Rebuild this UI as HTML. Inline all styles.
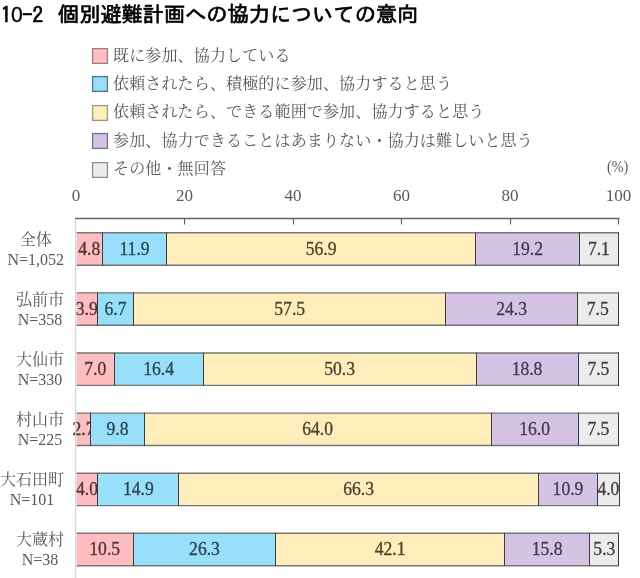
<!DOCTYPE html>
<html lang="ja"><head><meta charset="utf-8"><title>10-2 個別避難計画への協力についての意向</title>
<style>
html,body{margin:0;padding:0;background:#fff;}
body{width:640px;height:578px;position:relative;overflow:hidden;}
svg{position:absolute;left:0;top:0;}
svg text{font-family:"Liberation Serif",serif;font-size:17.6px;text-anchor:middle;stroke-width:0.3px;}
.t{position:absolute;white-space:pre;line-height:1;}
.title{top:4px;-webkit-text-stroke:0.7px #000;font-family:"IPAGothic","Noto Sans CJK JP",sans-serif;font-size:21.2px;color:#000;}
.lg{left:113px;font-family:"Liberation Serif", "Noto Serif CJK JP", "Noto Serif CJK SC", serif;font-size:16px;letter-spacing:0.15px;color:#595959;}
.ax{font-family:"Liberation Serif",serif;font-size:17px;color:#595959;width:40px;text-align:center;}
.rl{position:absolute;right:576px;font-family:"Liberation Serif", "Noto Serif CJK JP", "Noto Serif CJK SC", serif;font-size:16px;color:#595959;text-align:center;line-height:20px;white-space:pre;}
</style></head><body>
<svg width="640" height="578" viewBox="0 0 640 578"><rect x="92.6" y="48.6" width="14.8" height="14.8" fill="#ffbdc0" stroke="#a07880" stroke-width="1.3"/><rect x="92.6" y="76.6" width="14.8" height="14.8" fill="#98dff9" stroke="#50768a" stroke-width="1.3"/><rect x="92.6" y="105.6" width="14.8" height="14.8" fill="#ffeebb" stroke="#a09878" stroke-width="1.3"/><rect x="92.6" y="133.6" width="14.8" height="14.8" fill="#d5c3e5" stroke="#7a6c8c" stroke-width="1.3"/><rect x="92.6" y="162.6" width="14.8" height="14.8" fill="#ececec" stroke="#8e8e8e" stroke-width="1.3"/><line x1="75" y1="218.5" x2="619.5" y2="218.5" stroke="#666" stroke-width="1.5"/><line x1="184.5" y1="218.5" x2="184.5" y2="224.5" stroke="#5a5a5a" stroke-width="1.1"/><line x1="293.5" y1="218.5" x2="293.5" y2="224.5" stroke="#5a5a5a" stroke-width="1.1"/><line x1="401.5" y1="218.5" x2="401.5" y2="224.5" stroke="#5a5a5a" stroke-width="1.1"/><line x1="510.5" y1="218.5" x2="510.5" y2="224.5" stroke="#5a5a5a" stroke-width="1.1"/><line x1="618.5" y1="218.5" x2="618.5" y2="224.5" stroke="#5a5a5a" stroke-width="1.1"/><rect x="76.6" y="232.8" width="25.9" height="32.4" fill="#ffbdc0"/><text transform="translate(89.22 254.90) scale(1 1.040)" fill="#4a3636" stroke="#4a3636">4.8</text><rect x="102.5" y="232.8" width="64.0" height="32.4" fill="#98dff9"/><text transform="translate(134.52 254.90) scale(1 1.040)" fill="#2c4654" stroke="#2c4654">11.9</text><rect x="166.5" y="232.8" width="309.0" height="32.4" fill="#ffeebb"/><text transform="translate(321.14 254.90) scale(1 1.040)" fill="#48432f" stroke="#48432f">56.9</text><rect x="475.5" y="232.8" width="104.0" height="32.4" fill="#d5c3e5"/><text transform="translate(527.56 254.90) scale(1 1.040)" fill="#453a52" stroke="#453a52">19.2</text><rect x="579.5" y="232.8" width="39.0" height="32.4" fill="#ececec"/><text transform="translate(598.90 254.90) scale(1 1.040)" fill="#404040" stroke="#404040">7.1</text><path d="M76.6 232.8H619.0M76.6 265.2H619.0" stroke="#767676" stroke-width="1.4" fill="none"/><line x1="102.5" y1="232.5" x2="102.5" y2="265.5" stroke="#3c3c3c" stroke-width="1"/><line x1="166.5" y1="232.5" x2="166.5" y2="265.5" stroke="#3c3c3c" stroke-width="1"/><line x1="475.5" y1="232.5" x2="475.5" y2="265.5" stroke="#3c3c3c" stroke-width="1"/><line x1="579.5" y1="232.5" x2="579.5" y2="265.5" stroke="#3c3c3c" stroke-width="1"/><line x1="618.5" y1="232.5" x2="618.5" y2="265.5" stroke="#3c3c3c" stroke-width="1"/><rect x="76.6" y="292.9" width="20.9" height="32.4" fill="#ffbdc0"/><text transform="translate(86.78 315.00) scale(1 1.040)" fill="#4a3636" stroke="#4a3636">3.9</text><rect x="97.5" y="292.9" width="36.0" height="32.4" fill="#98dff9"/><text transform="translate(115.53 315.00) scale(1 1.040)" fill="#2c4654" stroke="#2c4654">6.7</text><rect x="133.5" y="292.9" width="312.0" height="32.4" fill="#ffeebb"/><text transform="translate(289.67 315.00) scale(1 1.040)" fill="#48432f" stroke="#48432f">57.5</text><rect x="445.5" y="292.9" width="132.0" height="32.4" fill="#d5c3e5"/><text transform="translate(511.56 315.00) scale(1 1.040)" fill="#453a52" stroke="#453a52">24.3</text><rect x="577.5" y="292.9" width="41.0" height="32.4" fill="#ececec"/><text transform="translate(597.81 315.00) scale(1 1.040)" fill="#404040" stroke="#404040">7.5</text><path d="M76.6 292.9H619.0M76.6 325.3H619.0" stroke="#767676" stroke-width="1.4" fill="none"/><line x1="97.5" y1="292.6" x2="97.5" y2="325.6" stroke="#3c3c3c" stroke-width="1"/><line x1="133.5" y1="292.6" x2="133.5" y2="325.6" stroke="#3c3c3c" stroke-width="1"/><line x1="445.5" y1="292.6" x2="445.5" y2="325.6" stroke="#3c3c3c" stroke-width="1"/><line x1="577.5" y1="292.6" x2="577.5" y2="325.6" stroke="#3c3c3c" stroke-width="1"/><line x1="618.5" y1="292.6" x2="618.5" y2="325.6" stroke="#3c3c3c" stroke-width="1"/><rect x="76.6" y="353.0" width="37.9" height="32.4" fill="#ffbdc0"/><text transform="translate(95.19 375.10) scale(1 1.040)" fill="#4a3636" stroke="#4a3636">7.0</text><rect x="114.5" y="353.0" width="89.0" height="32.4" fill="#98dff9"/><text transform="translate(158.66 375.10) scale(1 1.040)" fill="#2c4654" stroke="#2c4654">16.4</text><rect x="203.5" y="353.0" width="273.0" height="32.4" fill="#ffeebb"/><text transform="translate(339.58 375.10) scale(1 1.040)" fill="#48432f" stroke="#48432f">50.3</text><rect x="476.5" y="353.0" width="102.0" height="32.4" fill="#d5c3e5"/><text transform="translate(527.02 375.10) scale(1 1.040)" fill="#453a52" stroke="#453a52">18.8</text><rect x="578.5" y="353.0" width="40.0" height="32.4" fill="#ececec"/><text transform="translate(598.36 375.10) scale(1 1.040)" fill="#404040" stroke="#404040">7.5</text><path d="M76.6 353.0H619.0M76.6 385.4H619.0" stroke="#767676" stroke-width="1.4" fill="none"/><line x1="114.5" y1="352.7" x2="114.5" y2="385.7" stroke="#3c3c3c" stroke-width="1"/><line x1="203.5" y1="352.7" x2="203.5" y2="385.7" stroke="#3c3c3c" stroke-width="1"/><line x1="476.5" y1="352.7" x2="476.5" y2="385.7" stroke="#3c3c3c" stroke-width="1"/><line x1="578.5" y1="352.7" x2="578.5" y2="385.7" stroke="#3c3c3c" stroke-width="1"/><line x1="618.5" y1="352.7" x2="618.5" y2="385.7" stroke="#3c3c3c" stroke-width="1"/><rect x="76.6" y="413.1" width="13.9" height="32.4" fill="#ffbdc0"/><text transform="translate(83.52 435.20) scale(1 1.040)" fill="#4a3636" stroke="#4a3636">2.7</text><rect x="90.5" y="413.1" width="54.0" height="32.4" fill="#98dff9"/><text transform="translate(117.43 435.20) scale(1 1.040)" fill="#2c4654" stroke="#2c4654">9.8</text><rect x="144.5" y="413.1" width="347.0" height="32.4" fill="#ffeebb"/><text transform="translate(317.61 435.20) scale(1 1.040)" fill="#48432f" stroke="#48432f">64.0</text><rect x="491.5" y="413.1" width="87.0" height="32.4" fill="#d5c3e5"/><text transform="translate(534.61 435.20) scale(1 1.040)" fill="#453a52" stroke="#453a52">16.0</text><rect x="578.5" y="413.1" width="40.0" height="32.4" fill="#ececec"/><text transform="translate(598.36 435.20) scale(1 1.040)" fill="#404040" stroke="#404040">7.5</text><path d="M76.6 413.1H619.0M76.6 445.5H619.0" stroke="#767676" stroke-width="1.4" fill="none"/><line x1="90.5" y1="412.8" x2="90.5" y2="445.8" stroke="#3c3c3c" stroke-width="1"/><line x1="144.5" y1="412.8" x2="144.5" y2="445.8" stroke="#3c3c3c" stroke-width="1"/><line x1="491.5" y1="412.8" x2="491.5" y2="445.8" stroke="#3c3c3c" stroke-width="1"/><line x1="578.5" y1="412.8" x2="578.5" y2="445.8" stroke="#3c3c3c" stroke-width="1"/><line x1="618.5" y1="412.8" x2="618.5" y2="445.8" stroke="#3c3c3c" stroke-width="1"/><rect x="76.6" y="473.2" width="20.9" height="32.4" fill="#ffbdc0"/><text transform="translate(87.05 495.30) scale(1 1.040)" fill="#4a3636" stroke="#4a3636">4.0</text><rect x="97.5" y="473.2" width="81.0" height="32.4" fill="#98dff9"/><text transform="translate(138.32 495.30) scale(1 1.040)" fill="#2c4654" stroke="#2c4654">14.9</text><rect x="178.5" y="473.2" width="360.0" height="32.4" fill="#ffeebb"/><text transform="translate(358.57 495.30) scale(1 1.040)" fill="#48432f" stroke="#48432f">66.3</text><rect x="538.5" y="473.2" width="59.0" height="32.4" fill="#d5c3e5"/><text transform="translate(567.98 495.30) scale(1 1.040)" fill="#453a52" stroke="#453a52">10.9</text><rect x="597.5" y="473.2" width="22.0" height="32.4" fill="#ececec"/><text transform="translate(608.39 495.30) scale(1 1.040)" fill="#404040" stroke="#404040">4.0</text><path d="M76.6 473.2H620.0M76.6 505.6H620.0" stroke="#767676" stroke-width="1.4" fill="none"/><line x1="97.5" y1="472.9" x2="97.5" y2="505.9" stroke="#3c3c3c" stroke-width="1"/><line x1="178.5" y1="472.9" x2="178.5" y2="505.9" stroke="#3c3c3c" stroke-width="1"/><line x1="538.5" y1="472.9" x2="538.5" y2="505.9" stroke="#3c3c3c" stroke-width="1"/><line x1="597.5" y1="472.9" x2="597.5" y2="505.9" stroke="#3c3c3c" stroke-width="1"/><line x1="619.5" y1="472.9" x2="619.5" y2="505.9" stroke="#3c3c3c" stroke-width="1"/><rect x="76.6" y="533.3" width="56.9" height="32.4" fill="#ffbdc0"/><text transform="translate(104.68 555.40) scale(1 1.040)" fill="#4a3636" stroke="#4a3636">10.5</text><rect x="133.5" y="533.3" width="142.0" height="32.4" fill="#98dff9"/><text transform="translate(204.50 555.40) scale(1 1.040)" fill="#2c4654" stroke="#2c4654">26.3</text><rect x="275.5" y="533.3" width="229.0" height="32.4" fill="#ffeebb"/><text transform="translate(390.04 555.40) scale(1 1.040)" fill="#48432f" stroke="#48432f">42.1</text><rect x="504.5" y="533.3" width="85.0" height="32.4" fill="#d5c3e5"/><text transform="translate(547.09 555.40) scale(1 1.040)" fill="#453a52" stroke="#453a52">15.8</text><rect x="589.5" y="533.3" width="29.0" height="32.4" fill="#ececec"/><text transform="translate(604.32 555.40) scale(1 1.040)" fill="#404040" stroke="#404040">5.3</text><path d="M76.6 533.3H619.0M76.6 565.7H619.0" stroke="#767676" stroke-width="1.4" fill="none"/><line x1="133.5" y1="533.0" x2="133.5" y2="566.0" stroke="#3c3c3c" stroke-width="1"/><line x1="275.5" y1="533.0" x2="275.5" y2="566.0" stroke="#3c3c3c" stroke-width="1"/><line x1="504.5" y1="533.0" x2="504.5" y2="566.0" stroke="#3c3c3c" stroke-width="1"/><line x1="589.5" y1="533.0" x2="589.5" y2="566.0" stroke="#3c3c3c" stroke-width="1"/><line x1="618.5" y1="533.0" x2="618.5" y2="566.0" stroke="#3c3c3c" stroke-width="1"/><line x1="75.7" y1="219.2" x2="75.7" y2="578" stroke="#d6d6d6" stroke-width="1.3"/></svg>
<div class="t title" style="left:0.7px;top:5px">1<span style="font-family:'Liberation Sans',sans-serif;letter-spacing:-1.2px;-webkit-text-stroke:0.3px #000;position:relative;top:-1.5px;left:-0.4px">0</span>-2</div><div class="t title" style="left:58px">個別避難計画への協力についての意向</div>
<div class="t lg" style="top:48px">既に参加、協力している</div>
<div class="t lg" style="top:76px">依頼されたら、積極的に参加、協力すると思う</div>
<div class="t lg" style="top:104px">依頼されたら、できる範囲で参加、協力すると思う</div>
<div class="t lg" style="top:133px">参加、協力できることはあまりない・協力は難しいと思う</div>
<div class="t lg" style="top:161px">その他・無回答</div>
<div class="t" style="left:607px;top:159px;font-family:'Liberation Serif',serif;font-size:16px;color:#595959;transform:scaleX(0.88);transform-origin:0 0">(%)</div>
<div class="t ax" style="left:56.0px;top:187px">0</div><div class="t ax" style="left:164.5px;top:187px">20</div><div class="t ax" style="left:273.0px;top:187px">40</div><div class="t ax" style="left:381.5px;top:187px">60</div><div class="t ax" style="left:490.0px;top:187px">80</div><div class="t ax" style="left:598.5px;top:187px">100</div>
<div class="rl" style="top:230px">全体
N=1,052</div>
<div class="rl" style="top:290px">弘前市
N=358</div>
<div class="rl" style="top:350px">大仙市
N=330</div>
<div class="rl" style="top:410px">村山市
N=225</div>
<div class="rl" style="top:470px">大石田町
N=101</div>
<div class="rl" style="top:530px">大蔵村
N=38</div>
</body></html>
